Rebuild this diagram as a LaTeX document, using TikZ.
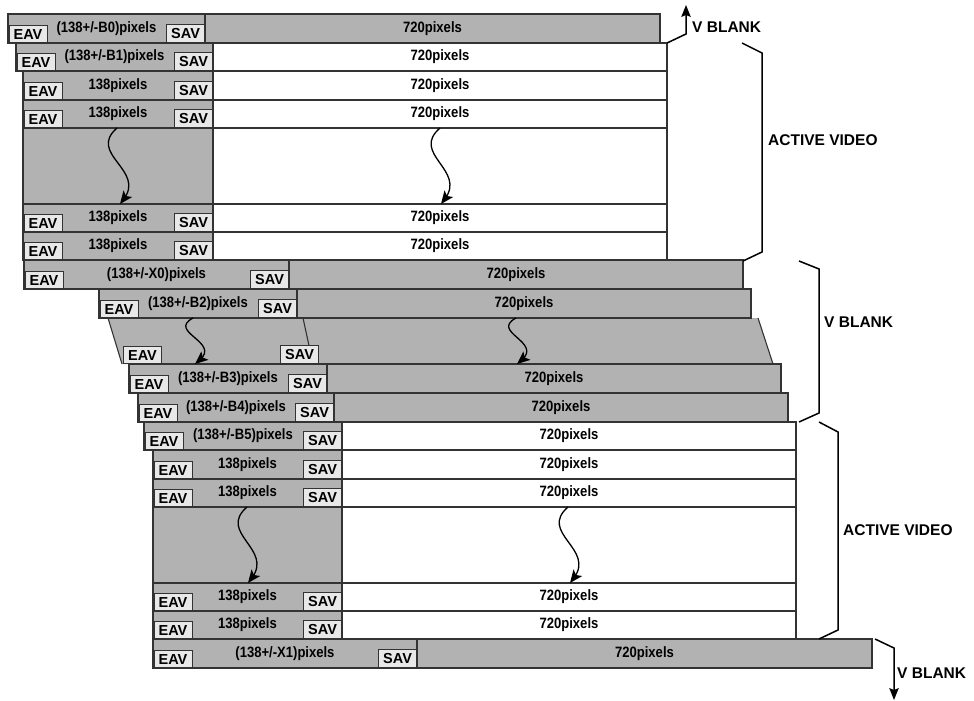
\documentclass[tikz,border=0pt]{standalone}
\usepackage{fontspec}
\setmainfont{Liberation Sans}
\newfontfamily\nb{Liberation Sans}[FakeStretch=0.87]
\usetikzlibrary{calc}
\definecolor{gfill}{gray}{0.70}
\definecolor{bfill}{gray}{0.91}
\definecolor{lc}{gray}{0.2}
\tikzset{
  rowline/.style={draw=lc, line width=1.1pt},
  eavbox/.style={draw=lc, fill=bfill, line width=0.9pt, minimum width=38pt, minimum height=17pt, inner sep=0pt, font=\bfseries\fontsize{14.5}{16}\selectfont},
  savbox/.style={eavbox, minimum height=18pt},
  lbl/.style={font=\nb\bfseries\fontsize{15}{18}\selectfont, inner sep=0pt},
  side/.style={font=\bfseries\fontsize{15.5}{18}\selectfont, anchor=west, inner sep=0pt},
  brace/.style={draw=black, line width=1.5pt},
  wig/.style={draw=black, line width=1.3pt, shorten >=6pt}
}
\newcommand{\vidrow}[8]{%
  \fill[#7] (#5,#3) rectangle (#6,#4);
  \fill[gfill] (#2,#3) rectangle (#5,#4);
  \draw[rowline] (#2,#3) rectangle (#6,#4);
  \draw[rowline] (#5,#3) -- (#5,#4);
  \node[eavbox,anchor=south west] (#1e) at ({#2+0.5},#4) {EAV};
  \node[savbox,anchor=south east] (#1s) at (#5,#4) {SAV};
  \node[lbl] (#1l) at ({(#2+#5)/2},{(#3+#4)/2}) {#8};
  \node[lbl] (#1r) at ({(#5+#6)/2},{(#3+#4)/2}) {720pixels};
}
\newcommand{\gaprow}[5]{%
  \fill[white] (#4,#2) rectangle (#5,#3);
  \fill[gfill] (#1,#2) rectangle (#4,#3);
  \draw[rowline] (#1,#2) rectangle (#5,#3);
  \draw[rowline] (#4,#2) -- (#4,#3);
}
% arrow head: tip, point it comes from, length, half width, notch depth
\newcommand{\ahd}[5]{%
  \coordinate (hb) at ($(#1)!#3!(#2)$);
  \fill[black] (#1) -- ($(hb)!#4!90:(#1)$) -- ($(#1)!#5!(#2)$) -- ($(hb)!#4!-90:(#1)$) -- cycle;
}
% wiggly arrow: start, end, start control offset, end control offset
\newcommand{\wiggle}[4]{%
  \coordinate (c1) at ($(#1)+#3$);
  \coordinate (c2) at ($(#2)+#4$);
  \draw[wig] (#1) .. controls (c1) and (c2) .. (#2);
  \ahd{#2}{c2}{13pt}{5.5pt}{10pt}
}
\begin{document}
\begin{tikzpicture}[x=1pt,y=-1pt]
\useasboundingbox (0,0) rectangle (974,701);

% trapezoid gap in V blank
\fill[gfill] (108,318) -- (758,318) -- (773,364) -- (122,364) -- cycle;
\draw[rowline] (108,318) -- (122,364);
\draw[rowline] (758,318) -- (773,364);
\draw[rowline] (303,318) -- (313,364);
\node[eavbox,anchor=south west] (tpe) at (123,364) {EAV};
\node[savbox,anchor=south east] (tps) at (319,364) {SAV};

\vidrow{r0}{8}{14}{43}{205}{660}{gfill}{(138+/-B0)pixels}
\vidrow{r1}{16}{43}{71}{213}{667}{white}{(138+/-B1)pixels}
\vidrow{r2}{23}{71}{100}{213}{667}{white}{138pixels}
\vidrow{r3}{23}{100}{128}{213}{667}{white}{138pixels}
\gaprow{23}{128}{204}{213}{667}
\vidrow{r4}{23}{204}{232}{213}{667}{white}{138pixels}
\vidrow{r5}{23}{232}{260}{213}{667}{white}{138pixels}
\vidrow{x0}{24}{260}{289}{289}{743}{gfill}{(138+/-X0)pixels}
\vidrow{b2}{99}{289}{318}{297}{751}{gfill}{(138+/-B2)pixels}
\vidrow{b3}{129}{364}{393}{327}{781}{gfill}{(138+/-B3)pixels}
\vidrow{b4}{138}{393}{422}{334}{788}{gfill}{(138+/-B4)pixels}
\vidrow{b5}{144}{422}{450}{342}{796}{white}{(138+/-B5)pixels}
\vidrow{c1}{153}{450}{479}{342}{796}{white}{138pixels}
\vidrow{c2}{153}{479}{507}{342}{796}{white}{138pixels}
\gaprow{153}{507}{583}{342}{796}
\vidrow{c3}{153}{583}{611}{342}{796}{white}{138pixels}
\vidrow{c4}{153}{611}{639}{342}{796}{white}{138pixels}
\vidrow{x1}{153}{639}{668}{417}{872}{gfill}{(138+/-X1)pixels}

% wiggly arrows
\coordinate (w1a) at (117,128); \coordinate (w1b) at (120,204);
\coordinate (w2a) at (440,128); \coordinate (w2b) at (441,204);
\coordinate (w3a) at (193,318); \coordinate (w3b) at (195,364);
\coordinate (w4a) at (516,318); \coordinate (w4b) at (517,364);
\coordinate (w5a) at (247,507); \coordinate (w5b) at (248,583);
\coordinate (w6a) at (568,507); \coordinate (w6b) at (570,583);
\wiggle{w1a}{w1b}{(-30,26)}{(26,-34)}
\wiggle{w2a}{w2b}{(-30,26)}{(26,-34)}
\wiggle{w5a}{w5b}{(-30,26)}{(26,-34)}
\wiggle{w6a}{w6b}{(-30,26)}{(26,-34)}
\wiggle{w3a}{w3b}{(-26,14)}{(26,-22)}
\wiggle{w4a}{w4b}{(-26,14)}{(26,-22)}

% braces and side labels
\coordinate (v1a) at (667,43); \coordinate (v1b) at (686,34); \coordinate (v1c) at (686,5);
\draw[brace,shorten >=6pt] (v1a) -- (v1b) -- (v1c);
\ahd{v1c}{v1b}{12pt}{4.8pt}{10pt}
\node[side] (vb1) at (692,27) {V BLANK};

\coordinate (a1a) at (742,43); \coordinate (a1b) at (762,53);
\coordinate (a1c) at (762,252); \coordinate (a1d) at (743,261);
\draw[brace] (a1a) -- (a1b) -- (a1c) -- (a1d);
\node[side] (av1) at (768,140) {ACTIVE VIDEO};

\coordinate (v2a) at (799,261); \coordinate (v2b) at (819,269);
\coordinate (v2c) at (819,413); \coordinate (v2d) at (799,422);
\draw[brace] (v2a) -- (v2b) -- (v2c) -- (v2d);
\node[side] (vb2) at (824,322) {V BLANK};

\coordinate (a2a) at (819,422); \coordinate (a2b) at (838,432);
\coordinate (a2c) at (838,630); \coordinate (a2d) at (819,639);
\draw[brace] (a2a) -- (a2b) -- (a2c) -- (a2d);
\node[side] (av2) at (843,530) {ACTIVE VIDEO};

\coordinate (v3a) at (875,639); \coordinate (v3b) at (894,648); \coordinate (v3c) at (894,700);
\draw[brace,shorten >=6pt] (v3a) -- (v3b) -- (v3c);
\ahd{v3c}{v3b}{12pt}{4.8pt}{10pt}
\node[side] (vb3) at (897,673) {V BLANK};
\end{tikzpicture}
\end{document}
